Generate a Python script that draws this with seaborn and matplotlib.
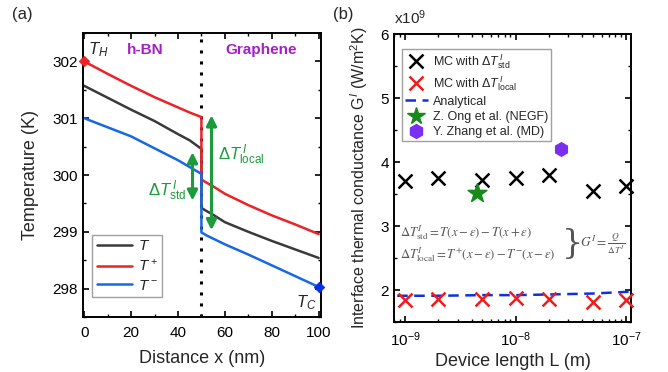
import numpy as np
import pandas as pd
import matplotlib
matplotlib.use("Agg")
import matplotlib.pyplot as plt
import seaborn as sns
from matplotlib.lines import Line2D
from matplotlib.patches import FancyArrowPatch
from matplotlib.ticker import MultipleLocator, LogLocator, NullFormatter

# ---------------- data: panel (a) ----------------
x_nm = [0, 10, 20, 30, 40, 45, 50, 50, 52, 55, 60, 70, 80, 90, 100]
T_mid = [301.57, 301.36, 301.15, 300.95, 300.72, 300.61, 300.46,
         299.42, 299.37, 299.30, 299.17, 299.00, 298.84, 298.69, 298.54]
T_plus = [302.00, 301.78, 301.57, 301.37, 301.19, 301.10, 301.02,
          299.92, 299.87, 299.80, 299.67, 299.47, 299.29, 299.13, 298.96]
T_minus = [301.00, 300.84, 300.68, 300.47, 300.26, 300.14, 300.02,
           298.99, 298.94, 298.88, 298.78, 298.60, 298.41, 298.22, 298.03]
curve_labels = ["$T$", "$T^+$", "$T^-$"]

# ---------------- data: panel (b) ----------------
L_mc = [1e-9, 2e-9, 5e-9, 1e-8, 2e-8, 5e-8, 1e-7]
G_std = [3.70, 3.75, 3.72, 3.75, 3.80, 3.55, 3.63]
G_local = [1.85, 1.86, 1.86, 1.87, 1.86, 1.82, 1.85]
L_an = [8.5e-10, 1e-9, 2e-9, 5e-9, 1e-8, 2e-8, 5e-8, 1e-7, 1.1e-7]
G_an = [1.91, 1.91, 1.91, 1.92, 1.92, 1.93, 1.945, 1.97, 1.98]
L_negf, G_negf = [4.5e-9], [3.52]
L_md, G_md = [2.6e-8], [4.20]

# ---------------- style ----------------
sns.set_style("ticks")
plt.rcParams["font.family"] = ["Liberation Sans", "DejaVu Sans"]
plt.rcParams["mathtext.fontset"] = "custom"
plt.rcParams["mathtext.rm"] = "Liberation Sans"
plt.rcParams["mathtext.it"] = "Liberation Sans:italic"
plt.rcParams["mathtext.bf"] = "Liberation Sans:bold"
plt.rcParams["axes.linewidth"] = 1.4
plt.rcParams["axes.edgecolor"] = "black"

RED = "#ec2227"
BLUE = "#1668e3"
GRAY = "#3a3a3a"
GREEN = "#1c9a3c"
PURPLE = "#a41fc8"

fig = plt.figure(figsize=(6.68, 3.72), dpi=100)
axa = fig.add_axes([0.1243, 0.1478, 0.3562, 0.7635])
axb = fig.add_axes([0.5898, 0.1344, 0.3548, 0.7742])

def style_ticks(ax, pad):
    ax.tick_params(which="both", direction="in", top=True, right=True,
                   labelsize=11, colors="black")
    ax.tick_params(which="major", length=4, width=1.2)
    ax.tick_params(which="minor", length=2.5, width=1.0)
    ax.tick_params(axis="x", which="major", pad=pad)

# ---------------- panel (a) ----------------
df_a = pd.DataFrame({
    "x": x_nm * 3,
    "T": T_mid + T_plus + T_minus,
    "curve": [curve_labels[0]] * len(x_nm) + [curve_labels[1]] * len(x_nm)
             + [curve_labels[2]] * len(x_nm),
})
sns.lineplot(data=df_a, x="x", y="T", hue="curve", estimator=None, sort=False,
             palette={curve_labels[0]: GRAY, curve_labels[1]: RED,
                      curve_labels[2]: BLUE},
             linewidth=1.8, ax=axa, legend=False)
axa.axvline(50, color="black", ls=(0, (1, 2.6)), lw=2.2, zorder=1)
sns.scatterplot(x=[x_nm[0]], y=[T_plus[0]], marker="D", color=RED, s=30,
                edgecolor=RED, ax=axa, zorder=5, clip_on=False)
sns.scatterplot(x=[x_nm[-1]], y=[T_minus[-1]], marker="D", color="#0a2ee8",
                s=30, edgecolor="#0a2ee8", ax=axa, zorder=5, clip_on=False)

axa.set_xlim(-0.5, 101)
axa.set_ylim(297.5, 302.5)
axa.xaxis.set_major_locator(MultipleLocator(20))
axa.xaxis.set_minor_locator(MultipleLocator(10))
axa.yaxis.set_major_locator(MultipleLocator(1))
axa.yaxis.set_minor_locator(MultipleLocator(0.5))
style_ticks(axa, 6.5)
axa.set_xlabel("Distance x (nm)", fontsize=13, labelpad=7)
axa.set_ylabel("Temperature (K)", fontsize=13, labelpad=10)

axa.text(1.5, 302.2, "$T_H$", fontsize=12, ha="left", va="center")
axa.text(99, 297.75, "$T_C$", fontsize=12, ha="right", va="center")
axa.text(26, 302.2, "h-BN", fontsize=11, fontweight="bold", color=PURPLE,
         ha="center", va="center")
axa.text(75.5, 302.2, "Graphene", fontsize=11, fontweight="bold",
         color=PURPLE, ha="center", va="center")

for (xx, y0, y1) in [(46.2, 300.45, 299.5), (54.3, 301.1, 298.98)]:
    arr = FancyArrowPatch((xx, y0), (xx, y1), arrowstyle="<|-|>",
                          mutation_scale=15, color=GREEN, lw=2.2, zorder=6)
    axa.add_patch(arr)
axa.text(57, 300.35, r"$\Delta T^{\,I}_{\rm local}$", color=GREEN,
         fontsize=12, ha="left", va="center")
axa.text(43.5, 299.72, r"$\Delta T^{\,I}_{\rm std}$", color=GREEN,
         fontsize=12, ha="right", va="center")

leg_a = [Line2D([0], [0], color=c, lw=1.8) for c in (GRAY, RED, BLUE)]
la = axa.legend(leg_a, curve_labels, loc="lower left",
                bbox_to_anchor=(0.038, 0.07), fontsize=11, frameon=True,
                fancybox=False, edgecolor="#888888", handlelength=2.3,
                borderpad=0.3, labelspacing=0.3, handletextpad=0.4,
                borderaxespad=0)
la.get_frame().set_linewidth(1.0)

# ---------------- panel (b) ----------------
sns.lineplot(x=L_an, y=G_an, color="#1030e0", lw=1.8,
             ls=(0, (4.2, 2.6)), ax=axb, estimator=None, sort=False, zorder=2)
sns.scatterplot(x=L_mc, y=G_std, marker="x", color="black", s=100,
                linewidth=1.8, ax=axb, zorder=3, clip_on=False)
sns.scatterplot(x=L_mc, y=G_local, marker="x", color="#f01c1c", s=100,
                linewidth=1.8, ax=axb, zorder=4, clip_on=False)
sns.scatterplot(x=L_negf, y=G_negf, marker="*", color="#168a1c", s=200,
                edgecolor="#168a1c", ax=axb, zorder=5)
sns.scatterplot(x=L_md, y=G_md, marker="h", color="#7a2ef0", s=100,
                edgecolor="#7a2ef0", ax=axb, zorder=5)

axb.set_xscale("log")
axb.set_xlim(10 ** -9.1, 10 ** -6.955)
axb.set_ylim(1.5, 6)
axb.xaxis.set_major_locator(LogLocator(base=10, numticks=10))
axb.xaxis.set_minor_locator(LogLocator(base=10, subs=np.arange(2, 10),
                                       numticks=20))
axb.xaxis.set_minor_formatter(NullFormatter())
axb.yaxis.set_major_locator(MultipleLocator(1))
axb.yaxis.set_minor_locator(MultipleLocator(0.5))
style_ticks(axb, 6)
axb.set_xlabel("Device length L (m)", fontsize=13, labelpad=3)
axb.set_ylabel("Interface thermal conductance G$^I$ (W/m$^2$K)",
               fontsize=11.5, labelpad=8)
axb.text(0.0, 1.025, "x10$^9$", transform=axb.transAxes, fontsize=11,
         ha="left", va="bottom")

leg_b = [
    Line2D([0], [0], marker="x", color="black", ls="none", ms=10, mew=1.8),
    Line2D([0], [0], marker="x", color="#f01c1c", ls="none", ms=10, mew=1.8),
    Line2D([0], [0], color="#1030e0", lw=1.8, ls=(0, (4.2, 2.6))),
    Line2D([0], [0], marker="*", color="#168a1c", ls="none", ms=13),
    Line2D([0], [0], marker="h", color="#7a2ef0", ls="none", ms=10),
]
lab_b = [r"MC with $\Delta T^{\,I}_{\rm std}$",
         r"MC with $\Delta T^{\,I}_{\rm local}$",
         "Analytical", "Z. Ong et al. (NEGF)", "Y. Zhang et al. (MD)"]
lb = axb.legend(leg_b, lab_b, loc="upper left", bbox_to_anchor=(0.034, 0.948),
                fontsize=9, frameon=True, fancybox=False,
                edgecolor="#888888", handlelength=1.8, borderpad=0.25,
                labelspacing=0.25, handletextpad=0.4, borderaxespad=0)
lb.get_frame().set_linewidth(1.0)

eq_col = "#555555"
axb.text(0.025, 0.31, r"$\Delta T^{I}_{\rm std} = T(x-\epsilon) - T(x+\epsilon)$",
         transform=axb.transAxes, fontsize=9.2, color=eq_col,
         math_fontfamily="stix", ha="left", va="center")
axb.text(0.025, 0.235,
         r"$\Delta T^{I}_{\rm local} = T^{+}(x-\epsilon) - T^{-}(x-\epsilon)$",
         transform=axb.transAxes, fontsize=9.2, color=eq_col,
         math_fontfamily="stix", ha="left", va="center")
axb.text(0.71, 0.272, "}", transform=axb.transAxes, fontsize=24,
         color=eq_col, family="DejaVu Serif", ha="left", va="center")
axb.text(0.785, 0.272, r"$G^{I} = \frac{Q}{\Delta T^{I}}$",
         transform=axb.transAxes, fontsize=9.5, color=eq_col,
         math_fontfamily="stix", ha="left", va="center")

fig.text(12 / 668, 1 - 14 / 372, "(a)", fontsize=12, ha="left", va="center")
fig.text(333 / 668, 1 - 14 / 372, "(b)", fontsize=12, ha="left", va="center")

fig.savefig("out.png", dpi=100)
